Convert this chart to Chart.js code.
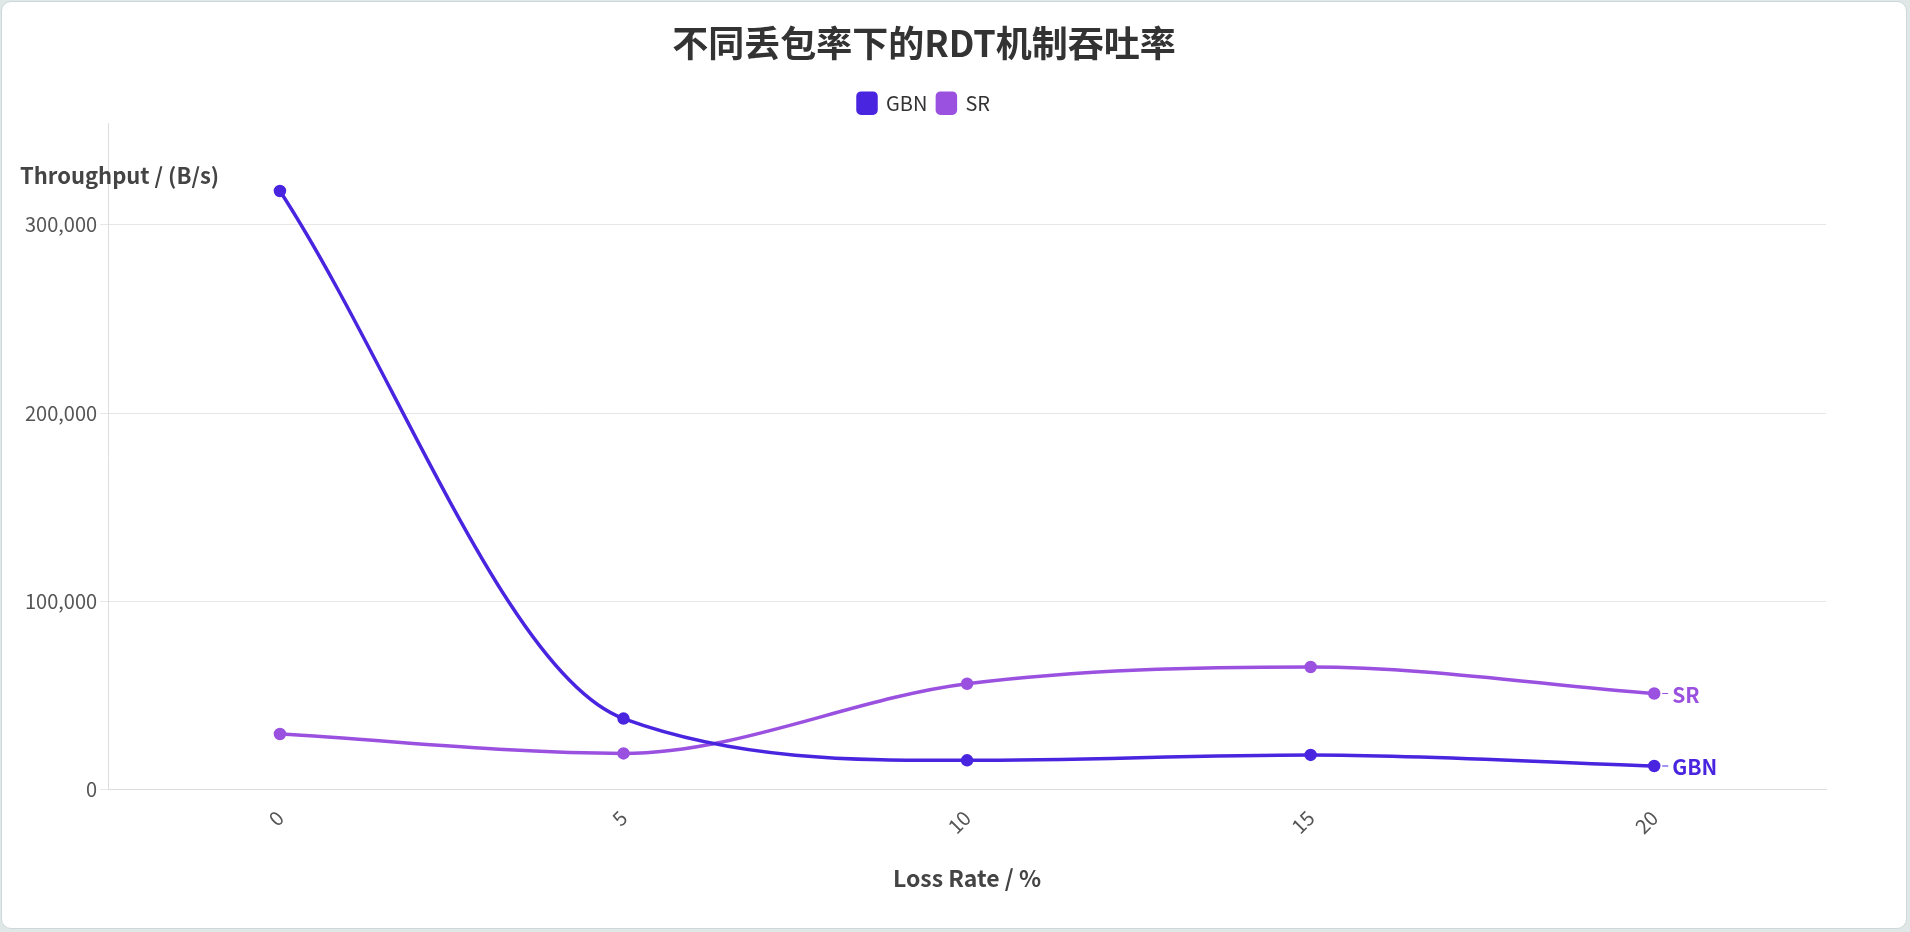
<!DOCTYPE html>
<html><head><meta charset="utf-8">
<script src="https://cdn.jsdelivr.net/npm/chart.js@4"></script>
<style>
html,body{margin:0;padding:0;background:#dfe7e7;}
#card{position:absolute;left:1px;top:1px;width:1906px;height:928px;background:#fff;border-radius:10px;border:1px solid #cfd8d8;box-sizing:border-box;}
canvas{display:block;}
</style></head><body>
<div id="card"><canvas id="c"></canvas></div>
<script>
const categories = ['0','5','10','15','20'];
const gbn = [318000, 37800, 15600, 18500, 12600];
const sr = [29600, 19300, 56300, 65200, 51100];
const seriesNames = ['GBN','SR'];
const colors = ['#4a25e0','#9b51e0'];
const FONT = "'Source Sans Pro','Noto Sans CJK SC','Noto Sans',sans-serif";

const endLabels = {
  id:'endLabels',
  afterDatasetsDraw(chart){
    const ctx=chart.ctx;
    chart.data.datasets.forEach((ds,i)=>{
      const m=chart.getDatasetMeta(i); const p=m.data[m.data.length-1];
      ctx.save();
      ctx.strokeStyle=ds.borderColor; ctx.lineWidth=1;
      ctx.beginPath(); ctx.moveTo(p.x+8,p.y); ctx.lineTo(p.x+14,p.y); ctx.stroke();
      ctx.fillStyle=ds.borderColor; ctx.font="bold 21px "+FONT; ctx.textBaseline='middle';
      ctx.fillText(ds.label,p.x+18,p.y+1);
      ctx.restore();
    });
  }
};
const yTitle = {
  id:'yTitle',
  afterDraw(chart){
    const ctx=chart.ctx; ctx.save();
    ctx.fillStyle='#444'; ctx.font="bold 22px "+FONT; ctx.textBaseline='middle';
    ctx.fillText('Throughput / (B/s)',18,174); ctx.restore();
  }
};
const cv=document.getElementById('c');
cv.width=1904; cv.height=926;
new Chart(cv,{
  type:'line',
  data:{labels:categories,datasets:[
    {label:seriesNames[0],data:gbn,borderColor:colors[0],backgroundColor:colors[0],borderWidth:3.5,pointRadius:4.5,tension:0.4,cubicInterpolationMode:'monotone'},
    {label:seriesNames[1],data:sr,borderColor:colors[1],backgroundColor:colors[1],borderWidth:3.5,pointRadius:4.5,tension:0.4,cubicInterpolationMode:'monotone'}
  ]},
  plugins:[endLabels,yTitle],
  options:{
    responsive:false,animation:false,
    layout:{padding:{left:20,right:80,top:10,bottom:32}},
    plugins:{
      title:{display:true,text:'不同丢包率下的RDT机制吞吐率',color:'#333',font:{family:FONT,size:36,weight:'bold'},padding:{top:10,bottom:18}},
      legend:{labels:{color:'#333',font:{family:FONT,size:20},boxWidth:18,boxHeight:20,useBorderRadius:true,borderRadius:3},padding:{bottom:30}},
      tooltip:{enabled:false}
    },
    scales:{
      x:{offset:true,grid:{display:false},border:{color:'#ddd'},
        ticks:{color:'#555',font:{family:FONT,size:20},maxRotation:45,minRotation:45,padding:8},
        title:{display:true,text:'Loss Rate / %',color:'#444',font:{family:FONT,size:23,weight:'bold'},padding:{top:18}}},
      y:{min:0,max:354000,border:{color:'#ddd'},
        afterFit(s){ s.chart.options.layout.padding.top; },
        afterBuildTicks(s){s.ticks=[0,100000,200000,300000].map(v=>({value:v}));},
        grid:{color:'#e6e6e6',drawTicks:true,tickLength:8},
        ticks:{color:'#555',font:{family:FONT,size:20},callback:v=>v.toLocaleString('en-US')}}
    }
  },
});
// push plot area down to leave room for y title (legend bottom gap)
const ch = Chart.getChart(cv);
ch.legend.options.padding = 0;
ch.options.plugins.legend.labels.padding = 10;
ch.options.layout.padding.top = 10;
ch.legend.afterFit = function(){ this.height += 95; };
ch.update();
</script></body></html>
